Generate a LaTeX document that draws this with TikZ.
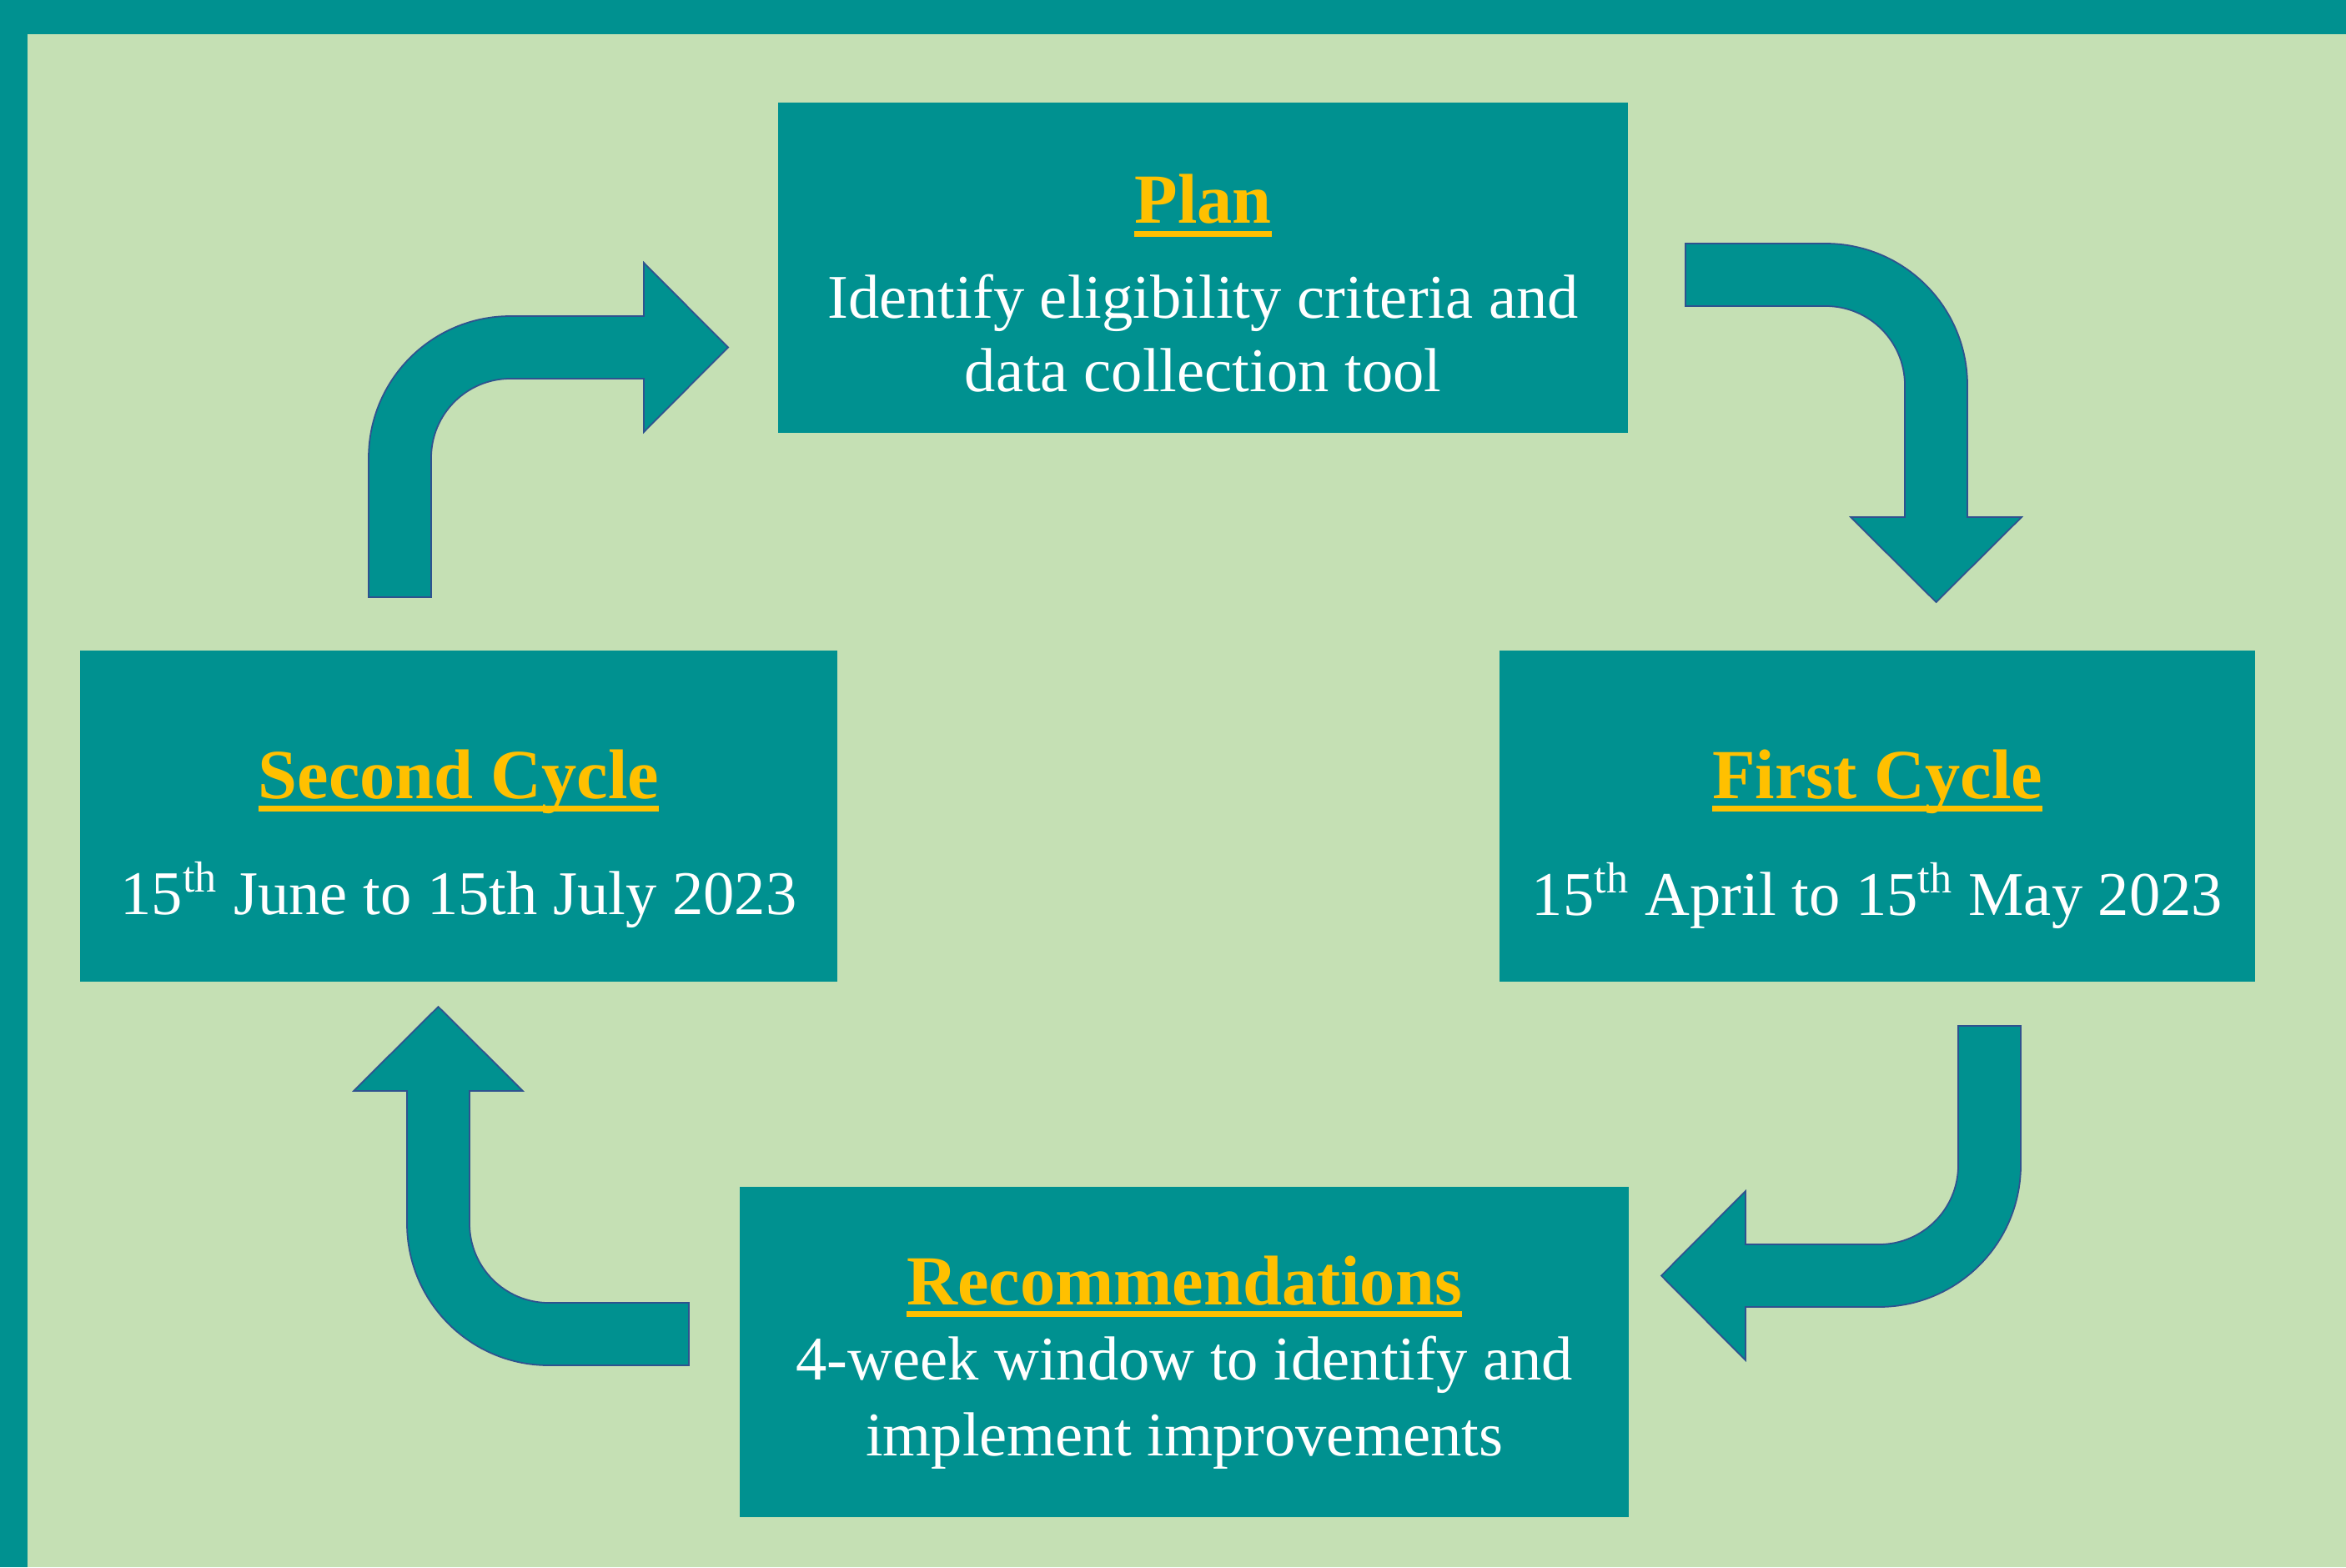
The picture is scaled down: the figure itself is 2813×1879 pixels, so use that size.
\documentclass[tikz,border=0pt]{standalone}
\usepackage{fontspec}
\setmainfont{Liberation Serif}
\usetikzlibrary{calc}
\definecolor{tealfill}{HTML}{009190}
\definecolor{bggreen}{HTML}{C5E0B4}
\definecolor{gold}{HTML}{FFC000}
\definecolor{arrowline}{HTML}{2F528F}
\tikzset{
  box/.style={fill=tealfill, draw=none, inner sep=0pt, outer sep=0pt},
  ttl/.style={anchor=base, inner sep=0pt, outer sep=0pt, text=gold, font=\fontsize{24}{29}\selectfont\bfseries},
  bodytxt/.style={anchor=base, inner sep=0pt, outer sep=0pt, text=white, font=\fontsize{21.2}{25}\selectfont},
  blockarrow/.style={fill=tealfill, draw=arrowline, line width=0.5pt, line join=miter}
}
\begin{document}
\begin{tikzpicture}[x=0.01cm,y=-0.01cm]
\useasboundingbox (0,0) rectangle (2813,1879);
\fill[bggreen] (0,0) rectangle (2813,1879);
\fill[tealfill] (0,0) rectangle (2813,41);
\fill[tealfill] (0,0) rectangle (33,1879);

% boxes
\node[box, minimum width=10.19cm, minimum height=3.96cm] (plan) at (1442.5,321) {};
\node[box, minimum width=9.06cm, minimum height=3.97cm] (first) at (2251,978.5) {};
\node[box, minimum width=9.08cm, minimum height=3.97cm] (second) at (550,978.5) {};
\node[box, minimum width=10.66cm, minimum height=3.96cm] (rec) at (1420,1621) {};

% titles
\node[ttl] (plant) at (1442.5,268) {Plan};
\fill[gold] ($(plant.base west)+(0,9)$) rectangle ($(plant.base east)+(0,16)$);
\node[ttl] (firstt) at (2251,957) {First Cycle};
\fill[gold] ($(firstt.base west)+(0,8.5)$) rectangle ($(firstt.base east)+(0,15.5)$);
\node[ttl] (secondt) at (550,957) {Second Cycle};
\fill[gold] ($(secondt.base west)+(0,8.5)$) rectangle ($(secondt.base east)+(0,15.5)$);
\node[ttl] (rect) at (1420,1564) {Recommendations};
\fill[gold] ($(rect.base west)+(0,8)$) rectangle ($(rect.base east)+(0,15)$);

% body text
\node[bodytxt] (plana) at (1442.5,381) {Identify eligibility criteria and};
\node[bodytxt] (planb) at (1442.5,469) {data collection tool};
\node[bodytxt] (firsta) at (2251,1097) {15\textsuperscript{th} April to 15\textsuperscript{th} May 2023};
\node[bodytxt] (seconda) at (550,1096) {15\textsuperscript{th} June to 15th July 2023};
\node[bodytxt] (reca) at (1420,1654) {4-week window to identify and};
\node[bodytxt] (recb) at (1420,1745) {implement improvements};

% block arrows
% Plan -> First Cycle
\draw[blockarrow] (2021,292) -- (2189,292) .. controls (2282.9,292) and (2359,368.1) .. (2359,462)
  -- (2359,620) -- (2424,620) -- (2321.5,722) -- (2219,620) -- (2284,620) -- (2284,462)
  .. controls (2284,409.5) and (2241.5,367) .. (2189,367) -- (2021,367) -- cycle;
% First Cycle -> Recommendations
\draw[blockarrow] (2348,1230) -- (2423,1230) -- (2423,1397) .. controls (2423,1490.9) and (2346.9,1567) .. (2253,1567)
  -- (2093,1567) -- (2093,1631) -- (1992,1529.5) -- (2093,1428) -- (2093,1492) -- (2253,1492)
  .. controls (2305.5,1492) and (2348,1449.5) .. (2348,1397) -- cycle;
% Recommendations -> Second Cycle
\draw[blockarrow] (826,1637) -- (658,1637) .. controls (564.1,1637) and (488,1560.9) .. (488,1467)
  -- (488,1308) -- (424,1308) -- (525.5,1207) -- (627,1308) -- (563,1308) -- (563,1467)
  .. controls (563,1519.5) and (605.5,1562) .. (658,1562) -- (826,1562) -- cycle;
% Second Cycle -> Plan
\draw[blockarrow] (442,716) -- (442,549) .. controls (442,455.1) and (518.1,379) .. (612,379)
  -- (772,379) -- (772,315) -- (873,416.5) -- (772,518) -- (772,454) -- (612,454)
  .. controls (559.5,454) and (517,496.5) .. (517,549) -- (517,716) -- cycle;
\end{tikzpicture}
\end{document}
